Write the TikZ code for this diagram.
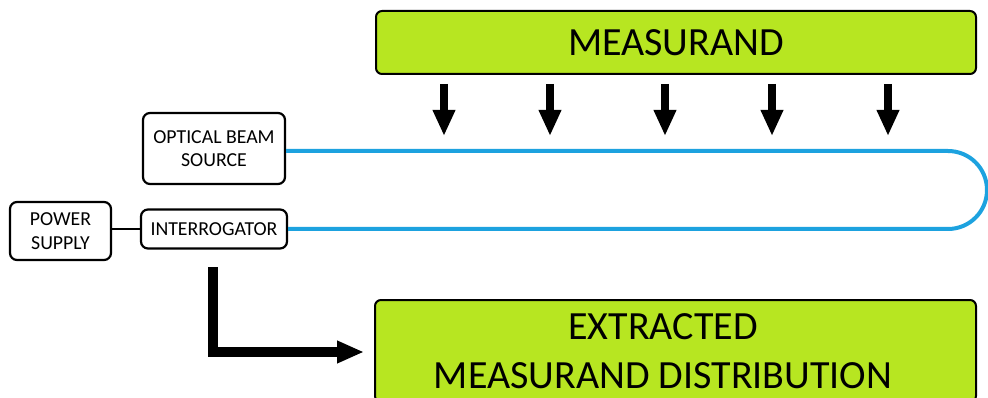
\documentclass[tikz,border=0pt]{standalone}
\usepackage{fontspec}
\setmainfont{Carlito}
\usetikzlibrary{arrows.meta}
\definecolor{lime}{HTML}{B7E621}
\definecolor{fiber}{HTML}{1DA2DF}
\tikzset{
  smallbox/.style={draw=black, line width=2.2pt, rounded corners=7pt, fill=white,
    inner sep=0pt, align=center, font=\fontsize{19.8}{23.5}\selectfont},
  bigbox/.style={draw=black, line width=2pt, rounded corners=6pt, fill=lime,
    inner sep=0pt, align=center, font=\fontsize{40}{49}\selectfont},
  bigtext/.style={inner sep=0pt, align=center, font=\fontsize{40}{49}\selectfont},
  fiberline/.style={draw=fiber, line width=4pt},
  wire/.style={draw=black, line width=2.2pt},
  pressarrow/.style={draw=black, line width=8pt, -{Triangle[width=21pt,length=26pt]}},
  outarrow/.style={draw=black, line width=10pt, -{Triangle[width=21pt,length=27pt]}}
}
\begin{document}
\begin{tikzpicture}[x=1pt,y=-1pt]
\useasboundingbox (0,0) rectangle (988,398);
\clip (0,0) rectangle (988,398);

% boxes
\node[bigbox, minimum width=600pt, minimum height=63pt] (meas) at (676,42.5) {MEASURAND};
\node[bigbox, minimum width=601pt, minimum height=102pt] (extr) at (675.5,351) {};
\node[bigtext] (extrtxt) at (663,351) {EXTRACTED\\MEASURAND DISTRIBUTION};
\node[smallbox, minimum width=142pt, minimum height=71pt] (src) at (214,148.5)
  {OPTICAL BEAM\\SOURCE};
\node[smallbox, minimum width=146pt, minimum height=39pt] (intr) at (214,229)
  {INTERROGATOR};
\node[smallbox, minimum width=101pt, minimum height=58pt] (pwr) at (60.5,231)
  {POWER\\SUPPLY};

% power supply to interrogator
\draw[wire] (pwr.east |- intr.east) -- (intr.west);

% sensing fibre loop (y axis points down, so the arc runs from -90 to 90)
\coordinate (loopc) at (948,190);
\draw[fiberline] (src.east |- 0,151) -- (loopc |- 0,151)
  arc[start angle=-90, end angle=90, radius=39] -- (intr.east);

% measurand acting on the fibre
\foreach \x in {444,550,665,772,888}
  \draw[pressarrow] (\x,84) -- (\x,136);

% interrogator output to extracted distribution
\coordinate (outstart) at (213,267);
\coordinate (outtip) at (364,352);
\draw[outarrow] (outstart) |- (outtip);
\end{tikzpicture}
\end{document}
